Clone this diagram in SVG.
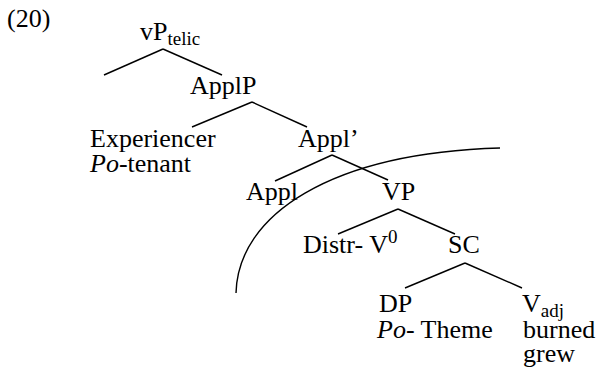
<svg xmlns="http://www.w3.org/2000/svg" width="598" height="370" viewBox="0 0 598 370" font-family="'Liberation Serif', 'Times New Roman', 'DejaVu Serif', serif">
<style>
text{font-family:"Liberation Serif","Times New Roman","DejaVu Serif",serif;font-size:26px;fill:#000}
.sub{font-size:19px}
.it{font-style:italic}
.edge{stroke:#000;stroke-width:1.4;fill:none}
</style>
<rect width="598" height="370" fill="#fff"/>
<text x="7" y="27">(20)</text>
<g id="edges">
<line class="edge" x1="163" y1="49" x2="104" y2="75"/>
<line class="edge" x1="163" y1="49" x2="222" y2="75"/>
<line class="edge" x1="252" y1="102" x2="192" y2="127"/>
<line class="edge" x1="252" y1="102" x2="307" y2="127"/>
<line class="edge" x1="332" y1="155" x2="275" y2="181"/>
<line class="edge" x1="332" y1="155" x2="388" y2="180"/>
<line class="edge" x1="398" y1="209" x2="338" y2="234"/>
<line class="edge" x1="398" y1="209" x2="455" y2="234"/>
<line class="edge" x1="465" y1="263" x2="405" y2="288"/>
<line class="edge" x1="465" y1="263" x2="522" y2="288"/>
</g>
<path class="edge" d="M236,293 C238,215 330,153 500,148" stroke-width="1.6"/>
<g id="vP"><text x="140" y="40">vP<tspan class="sub" dy="5">telic</tspan></text></g>
<g id="ApplP"><text x="190" y="94">ApplP</text></g>
<g id="Experiencer"><text x="90" y="147">Experiencer<tspan x="90" y="172" class="it">Po</tspan>-tenant</text></g>
<g id="ApplBar"><text x="298" y="147">Appl’</text></g>
<g id="Appl"><text x="246" y="200">Appl</text></g>
<g id="VP"><text x="382" y="200">VP</text></g>
<g id="DistrV"><text x="303" y="253">Distr- V<tspan class="sub" dy="-10">0</tspan></text></g>
<g id="SC"><text x="448" y="253">SC</text></g>
<g id="DP"><text x="379" y="312">DP<tspan x="377" y="338" class="it">Po</tspan>- Theme</text></g>
<g id="Vadj"><text x="522" y="312">V<tspan class="sub" dy="5">adj</tspan><tspan x="523" y="338">burned</tspan><tspan x="523" y="362">grew</tspan></text></g>
</svg>
